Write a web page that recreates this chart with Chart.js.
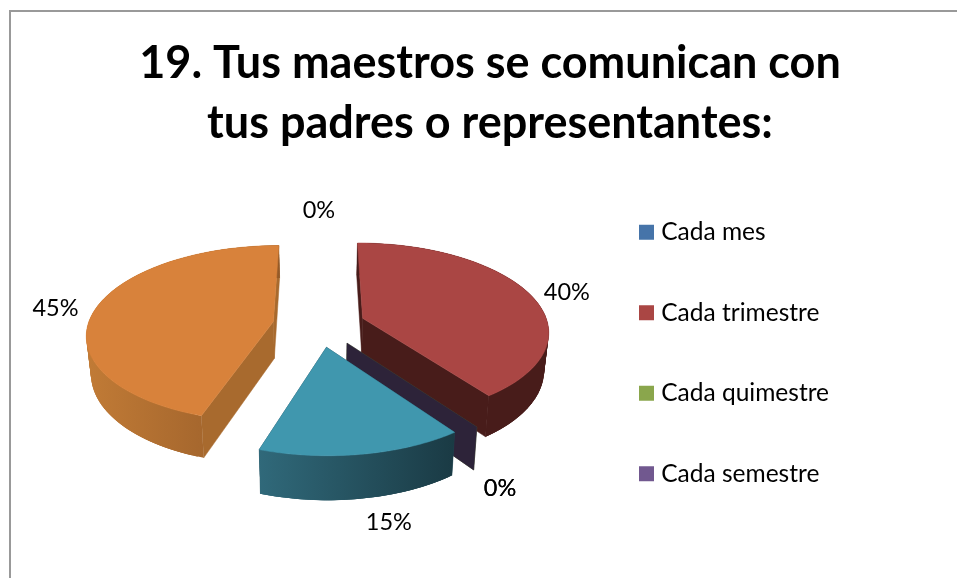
<!DOCTYPE html>
<html><head><meta charset="utf-8">
<style>
html,body{margin:0;padding:0;background:#fff;overflow:hidden}
#wrap{position:relative;width:957px;height:578px}
#frame{position:absolute;left:9px;top:10px;width:1200px;height:900px;border:2px solid #999;box-sizing:border-box}
canvas{position:absolute;left:0;top:0}
</style>
<script src="https://cdn.jsdelivr.net/npm/chart.js@4"></script>
</head><body>
<div id="wrap"><div id="frame"></div><canvas id="c" width="957" height="578"></canvas></div>
<script>
const titleLines = ['19. Tus maestros se comunican con','tus padres o representantes:'];
const categories = ['Cada mes','Cada trimestre','Cada quimestre','Cada semestre','',''];
const shares = [0,40,0,0,15,45];
const topColors = ['#4674a9','#aa4644','#8aa64c','#71588f','#4097ae','#d8823b'];
const wallColors = ['#2a4666','#481c1a','#536430','#2d2339','#1f4653','#a86a2e'];
const rimLeftColors = ['#2a4666','#481c1a','#536430','#2d2339','#30697a','#c17b36'];
const rimRightColors = ['#2a4666','#481c1a','#536430','#2d2339','#1a3a44','#945a28'];
const FONT = 'Lato, Carlito, sans-serif';
// view of the pie
const WIDEN = 1.06, SQUASH = 0.47, PERSP = 0.135, EXPLODE = 0.25, DEPTH = 37, BASE_SHRINK = 0.98;
const labelReach = [1.6,1.46,1.43,1.43,1.44,1.47];
const labelSwing = [0,2.5,0,0,-3.5,-1.5];

function projector(el){
  const A = el.outerRadius*WIDEN, B = A*SQUASH;
  return (u,v,low)=>{
    const w = 1 + PERSP*v;
    const X = A*u/w, Y = -B*v/w;
    return low ? {x:el.x+X*BASE_SHRINK, y:el.y+Y+DEPTH/w} : {x:el.x+X, y:el.y+Y};
  };
}
function polygon(ctx,pts,fill,edge=true){
  ctx.beginPath();
  pts.forEach((p,i)=> i?ctx.lineTo(p.x,p.y):ctx.moveTo(p.x,p.y));
  ctx.closePath(); ctx.fillStyle=fill; ctx.fill();
  if (edge){ ctx.strokeStyle=fill; ctx.lineWidth=0.5; ctx.stroke(); }
}
const pie3d = {
  id:'pie3d',
  beforeLayout(chart){
    const L = chart.legend;
    if (!L._tall){ const u = L.update; L.update = (w,h,m)=>u.call(L,w,700,m); L._tall = true; }
  },
  afterLayout(chart){
    chart.legend.left = 588; chart.legend.top = 164; chart.legend.bottom = 700;
    chart.titleBlock.left += 45.5; chart.titleBlock.right += 45.5;
    chart.titleBlock.top += 18; chart.titleBlock.bottom += 18;
  },
  beforeDatasetsDraw(chart){
    const ctx = chart.ctx, meta = chart.getDatasetMeta(0);
    const total = shares.reduce((a,b)=>a+b,0);
    const items = meta.data.map((el,i)=>{
      const a0 = el.startAngle+Math.PI/2, a1 = el.endAngle+Math.PI/2;
      return {el,i,a0,a1,mid:(a0+a1)/2};
    }).sort((p,q)=>Math.cos(q.mid)-Math.cos(p.mid));
    items.forEach(({el,i,a0,a1,mid})=>{
      const P = projector(el);
      const ou = EXPLODE*Math.sin(mid), ov = EXPLODE*Math.cos(mid);
      const rim = (a,low)=>P(ou+Math.sin(a),ov+Math.cos(a),low);
      const apex = P(ou,ov,false), apexLow = P(ou,ov,true);
      const wall = a=>polygon(ctx,[apex,rim(a,false),rim(a,true),apexLow],wallColors[i]);
      if (a1-a0 < 1e-6){ if (Math.abs(Math.sin(mid))>1e-3) wall(a0); return; }
      wall(a0); wall(a1);
      const n = 90, top=[], low=[];
      for(let k=0;k<=n;k++){
        const a=a0+(a1-a0)*k/n; top.push(rim(a,false)); low.push(rim(a,true));
      }
      const xs = top.concat(low).map(p=>p.x);
      const g = ctx.createLinearGradient(Math.min(...xs),0,Math.max(...xs),0);
      g.addColorStop(0,rimLeftColors[i]); g.addColorStop(1,rimRightColors[i]);
      for(let k=0;k<n;k++){
        const e=Math.min(k+3,n);
        polygon(ctx,[top[k],top[e],low[e],low[k]],g,false);
      }
      polygon(ctx,[apex].concat(top),topColors[i]);
    });
    // percentage labels
    ctx.fillStyle='#000'; ctx.font='23.5px '+FONT; ctx.textAlign='center'; ctx.textBaseline='middle';
    items.forEach(({el,i,mid})=>{
      const P = projector(el), t = labelReach[i], a = mid+labelSwing[i]*Math.PI/180, c=Math.cos(a);
      const p = P(t*Math.sin(a),t*c,c<0);
      ctx.fillText(Math.round(shares[i]/total*100)+'%',p.x,p.y);
    });
    return false;
  }
};
new Chart(document.getElementById('c'),{
  type:'pie',
  plugins:[pie3d],
  data:{labels:categories,datasets:[{data:shares,backgroundColor:topColors,borderWidth:0}]},
  options:{
    responsive:false,animation:false,
    layout:{padding:{left:14,right:82,top:0,bottom:78}},
    plugins:{
      tooltip:{enabled:false},
      title:{display:true,text:titleLines,color:'#000',align:'center',
        font:{family:FONT,size:45,weight:'bold',lineHeight:1.3333},padding:{top:15,bottom:15}},
      legend:{position:'right',align:'start',
        labels:{color:'#000',font:{family:FONT,size:24.5},boxWidth:5,boxHeight:5,padding:56,
          filter:it=>it.index<4,
          generateLabels(chart){
            return Chart.overrides.pie.plugins.legend.labels.generateLabels(chart).map(it=>
              Object.assign(it,{strokeStyle:it.fillStyle,lineWidth:10}));
          }}}
    }
  }
});
</script>
</body></html>
